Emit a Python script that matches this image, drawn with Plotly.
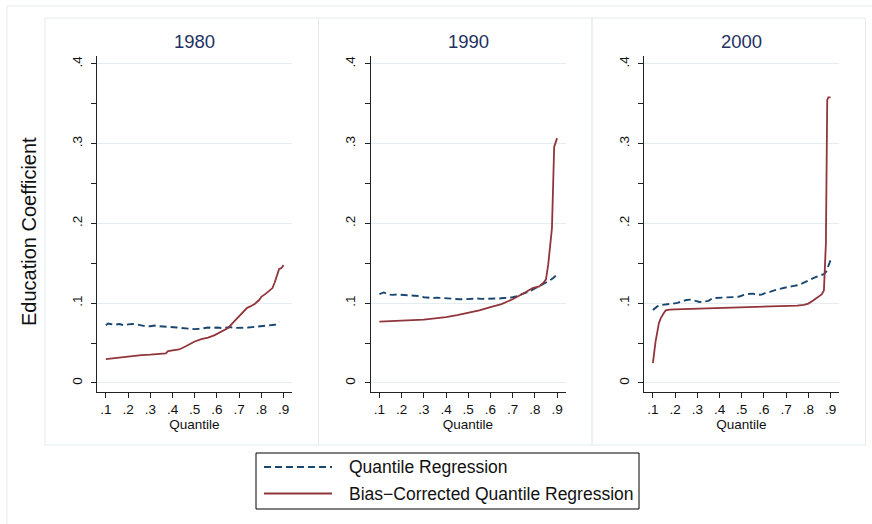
import plotly.graph_objects as go

# ---- data -------------------------------------------------------------
years = ["1980", "1990", "2000"]
series_names = ["Quantile Regression", "Bias\u2212Corrected Quantile Regression"]

x_ticks = [0.1, 0.2, 0.3, 0.4, 0.5, 0.6, 0.7, 0.8, 0.9]
x_tick_labels = [".1", ".2", ".3", ".4", ".5", ".6", ".7", ".8", ".9"]
y_ticks = [0, 0.1, 0.2, 0.3, 0.4]
y_tick_labels = ["0", ".1", ".2", ".3", ".4"]

# 1980
q_qr_1980 = [0.10, 0.11, 0.12, 0.14, 0.16, 0.18, 0.20, 0.22, 0.24, 0.26, 0.28, 0.30,
             0.32, 0.34, 0.36, 0.38, 0.40, 0.42, 0.44, 0.46, 0.48, 0.50, 0.52, 0.54,
             0.56, 0.58, 0.60, 0.62, 0.64, 0.66, 0.68, 0.70, 0.72, 0.74, 0.76, 0.78,
             0.80, 0.82, 0.84, 0.86, 0.87, 0.88]
b_qr_1980 = [0.0725, 0.0745, 0.0740, 0.0730, 0.0740, 0.0725, 0.0735, 0.0740, 0.0735,
             0.0725, 0.0710, 0.0712, 0.0720, 0.0712, 0.0710, 0.0705, 0.0700, 0.0695,
             0.0690, 0.0685, 0.0680, 0.0675, 0.0680, 0.0690, 0.0695, 0.0690, 0.0695,
             0.0690, 0.0695, 0.0700, 0.0690, 0.0690, 0.0690, 0.0695, 0.0700, 0.0705,
             0.0710, 0.0715, 0.0725, 0.0730, 0.0740, 0.0770]
q_bc_1980 = [0.10, 0.13, 0.16, 0.20, 0.23, 0.26, 0.30, 0.34, 0.37, 0.38, 0.40, 0.43,
             0.46, 0.48, 0.50, 0.53, 0.56, 0.59, 0.62, 0.65, 0.68, 0.70, 0.72, 0.735,
             0.75, 0.77, 0.79, 0.80, 0.82, 0.84, 0.85, 0.86, 0.87, 0.88, 0.89, 0.90]
b_bc_1980 = [0.030, 0.031, 0.032, 0.033, 0.034, 0.035, 0.0355, 0.036, 0.037, 0.040,
             0.041, 0.042, 0.046, 0.049, 0.052, 0.055, 0.057, 0.060, 0.064, 0.069,
             0.078, 0.084, 0.090, 0.094, 0.096, 0.099, 0.104, 0.108, 0.112, 0.116,
             0.119, 0.126, 0.135, 0.143, 0.144, 0.148]

# 1990
q_qr_1990 = [0.10, 0.11, 0.12, 0.14, 0.16, 0.18, 0.20, 0.22, 0.24, 0.26, 0.28, 0.30,
             0.32, 0.34, 0.36, 0.38, 0.40, 0.42, 0.44, 0.46, 0.48, 0.50, 0.52, 0.54,
             0.56, 0.58, 0.60, 0.62, 0.64, 0.66, 0.68, 0.70, 0.72, 0.74, 0.76, 0.78,
             0.80, 0.82, 0.84, 0.86, 0.88, 0.90]
b_qr_1990 = [0.1115, 0.1130, 0.1135, 0.1110, 0.1105, 0.1110, 0.1105, 0.1100, 0.1095,
             0.1095, 0.1090, 0.1075, 0.1070, 0.1065, 0.1070, 0.1065, 0.1065, 0.1060,
             0.1055, 0.1050, 0.1050, 0.1055, 0.1055, 0.1060, 0.1055, 0.1055, 0.1055,
             0.1060, 0.1060, 0.1065, 0.1070, 0.1075, 0.1090, 0.1110, 0.1130, 0.1155,
             0.1185, 0.1210, 0.1245, 0.1275, 0.1310, 0.1360]
q_bc_1990 = [0.10, 0.15, 0.20, 0.25, 0.30, 0.35, 0.40, 0.45, 0.50, 0.55, 0.60, 0.65,
             0.70, 0.73, 0.76, 0.79, 0.82, 0.84, 0.85, 0.86, 0.87, 0.877, 0.887, 0.90]
b_bc_1990 = [0.0770, 0.0775, 0.0778, 0.0785, 0.0795, 0.0810, 0.0825, 0.0850, 0.0880,
             0.0910, 0.0950, 0.0990, 0.1050, 0.1090, 0.1140, 0.1190, 0.1210, 0.1260,
             0.1300, 0.1480, 0.1750, 0.1940, 0.2960, 0.3070]

# 2000
q_qr_2000 = [0.10, 0.11, 0.12, 0.13, 0.15, 0.17, 0.19, 0.21, 0.23, 0.25, 0.27, 0.29,
             0.31, 0.33, 0.35, 0.37, 0.39, 0.41, 0.43, 0.45, 0.47, 0.49, 0.51, 0.53,
             0.55, 0.57, 0.59, 0.61, 0.63, 0.65, 0.67, 0.69, 0.71, 0.73, 0.75, 0.77,
             0.79, 0.81, 0.83, 0.85, 0.87, 0.88, 0.89, 0.90]
b_qr_2000 = [0.0915, 0.0940, 0.0960, 0.0975, 0.0980, 0.0985, 0.0995, 0.1005, 0.1020,
             0.1040, 0.1045, 0.1025, 0.1015, 0.1020, 0.1030, 0.1065, 0.1068, 0.1065,
             0.1065, 0.1072, 0.1078, 0.1085, 0.1105, 0.1115, 0.1120, 0.1105, 0.1108,
             0.1135, 0.1145, 0.1165, 0.1180, 0.1195, 0.1205, 0.1215, 0.1225, 0.1245,
             0.1275, 0.1305, 0.1325, 0.1345, 0.1365, 0.1395, 0.1460, 0.1540]
q_bc_2000 = [0.10, 0.105, 0.112, 0.12, 0.127, 0.135, 0.142, 0.15, 0.158, 0.165, 0.175,
             0.20, 0.25, 0.30, 0.35, 0.40, 0.45, 0.50, 0.55, 0.60, 0.65, 0.70, 0.75,
             0.78, 0.80, 0.82, 0.84, 0.86, 0.87, 0.875, 0.879, 0.885, 0.89, 0.90]
b_bc_2000 = [0.025, 0.040, 0.052, 0.064, 0.075, 0.081, 0.085, 0.088, 0.091, 0.0918,
             0.0920, 0.0924, 0.0928, 0.0930, 0.0932, 0.0936, 0.0940, 0.0943, 0.0948,
             0.0952, 0.0957, 0.0962, 0.0970, 0.0980, 0.0995, 0.1030, 0.1070, 0.1110,
             0.1160, 0.1400, 0.1750, 0.3550, 0.3580, 0.3580]

qr_series = [(q_qr_1980, b_qr_1980), (q_qr_1990, b_qr_1990), (q_qr_2000, b_qr_2000)]
bc_series = [(q_bc_1980, b_bc_1980), (q_bc_1990, b_bc_1990), (q_bc_2000, b_bc_2000)]

# ---- styling ------------------------------------------------------------
W, H = 872, 524
FONT = "Liberation Sans, Arial, Helvetica, sans-serif"
BLUE = "#1a476f"
RED = "#90353b"
TITLE_COLOR = "#1f3161"
GRID = "#e4edf0"
FRAME = "#e2ebee"
AXIS = "#222222"
TEXT = "#111111"
DASH = "7px,4px"


def fx(px):
    return px / W


def fy(px):
    return 1 - px / H


plot_left0, plot_step, plot_w = 97, 273.5, 195
plot_top, plot_bottom = 56, 392

fig = go.Figure()

for i, year in enumerate(years):
    n = "" if i == 0 else str(i + 1)
    xa, ya = "x" + n, "y" + n
    qx, qy = qr_series[i]
    bx, by = bc_series[i]
    fig.add_trace(go.Scatter(x=qx, y=qy, mode="lines", name=series_names[0],
                             line=dict(color=BLUE, width=1.9, dash=DASH),
                             xaxis=xa, yaxis=ya, showlegend=False))
    fig.add_trace(go.Scatter(x=bx, y=by, mode="lines", name=series_names[1],
                             line=dict(color=RED, width=1.8),
                             xaxis=xa, yaxis=ya, showlegend=False))

    left = plot_left0 + i * plot_step
    fig.layout["xaxis" + n] = dict(
        domain=[fx(left), fx(left + plot_w)], anchor=ya,
        range=[0.06, 0.938], tickvals=x_ticks, ticktext=x_tick_labels,
        ticks="outside", ticklen=5, tickcolor=AXIS, showline=True,
        linecolor=AXIS, linewidth=1, showgrid=False, zeroline=False,
        tickfont=dict(size=13.5, color=TEXT, family=FONT),
        title=dict(text="Quantile", standoff=0,
                   font=dict(size=13.5, color=TEXT, family=FONT)),
    )
    fig.layout["yaxis" + n] = dict(
        domain=[fy(plot_bottom), fy(plot_top)], anchor=xa,
        range=[-0.0113, 0.41], tickvals=y_ticks, ticktext=y_tick_labels,
        tickangle=-90, ticks="outside", ticklen=5, tickcolor=AXIS,
        ticklabelstandoff=4,
        showline=True, linecolor=AXIS, linewidth=1,
        showgrid=True, gridcolor=GRID, gridwidth=1, zeroline=False,
        minor=dict(tickvals=[0.05, 0.15, 0.25, 0.35], ticks="outside",
                   ticklen=5, tickcolor=AXIS, showgrid=False),
        tickfont=dict(size=13.5, color=TEXT, family=FONT),
    )

    # panel title
    fig.add_annotation(x=fx(left + plot_w / 2), y=fy(42), xref="paper", yref="paper",
                       text=year, showarrow=False, xanchor="center", yanchor="middle",
                       font=dict(size=18.5, color=TITLE_COLOR, family=FONT))
    # faint panel frame
    fig.add_shape(type="rect", xref="paper", yref="paper",
                  x0=fx(45 + i * 273.5), x1=fx(45 + (i + 1) * 273.5),
                  y0=fy(445), y1=fy(18), line=dict(color=FRAME, width=1),
                  layer="below")

# outer frame
fig.add_shape(type="rect", xref="paper", yref="paper",
              x0=fx(7), x1=fx(890), y0=fy(540), y1=fy(6),
              line=dict(color=FRAME, width=1), layer="below")

# shared y title
fig.add_annotation(x=fx(29), y=fy(232), xref="paper", yref="paper",
                   text="Education Coefficient", textangle=-90, showarrow=False,
                   xanchor="center", yanchor="middle",
                   font=dict(size=20, color=TEXT, family=FONT))

# legend box
fig.add_shape(type="rect", xref="paper", yref="paper",
              x0=fx(256), x1=fx(639), y0=fy(509), y1=fy(453),
              line=dict(color="#000000", width=1), fillcolor="white")
legend_rows = [(series_names[0], BLUE, DASH, 467), (series_names[1], RED, "solid", 493.5)]
for name, color, dash, ypx in legend_rows:
    fig.add_shape(type="line", xref="paper", yref="paper",
                  x0=fx(264), x1=fx(332), y0=fy(ypx), y1=fy(ypx),
                  line=dict(color=color, width=1.9, dash=dash))
    fig.add_annotation(x=fx(347), y=fy(ypx), xref="paper", yref="paper",
                       text=name, showarrow=False, xanchor="left", yanchor="middle",
                       font=dict(size=17.5, color=TEXT, family=FONT))

fig.update_layout(
    width=W, height=H,
    margin=dict(l=0, r=0, t=0, b=0),
    paper_bgcolor="white", plot_bgcolor="white",
    font=dict(family=FONT),
)

fig.write_html("out.html")
